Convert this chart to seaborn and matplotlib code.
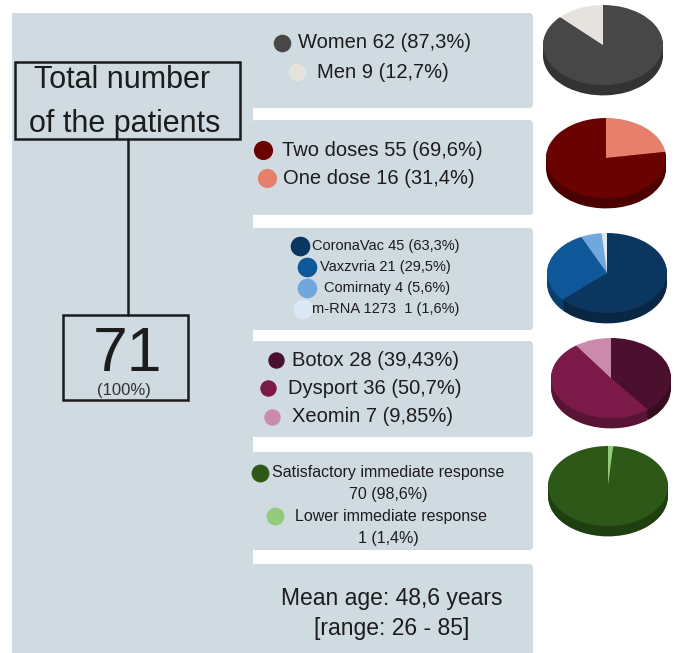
import matplotlib
matplotlib.use('Agg')
import matplotlib.pyplot as plt
import seaborn as sns
from matplotlib.patches import FancyBboxPatch, Rectangle

sns.set_theme(style='white')
plt.rcParams['font.family'] = ['Liberation Sans', 'DejaVu Sans']

# data
total = 71
sex_labels = ['Women 62 (87,3%)', 'Men 9 (12,7%)']
sex_counts = [62, 9]
sex_colors = ['#474747', '#e6e3df']

dose_labels = ['Two doses 55 (69,6%)', 'One dose 16 (31,4%)']
dose_counts = [55, 16]
dose_colors = ['#6a0202', '#e6806c']

vacc_labels = ['CoronaVac 45 (63,3%)', 'Vaxzvria 21 (29,5%)', 'Comirnaty 4 (5,6%)', 'm-RNA 1273  1 (1,6%)']
vacc_counts = [45, 21, 4, 1]
vacc_colors = ['#0b365f', '#0e5798', '#70a7dd', '#dbe9f6']

toxin_labels = ['Botox 28 (39,43%)', 'Dysport 36 (50,7%)', 'Xeomin 7 (9,85%)']
toxin_counts = [28, 36, 7]
toxin_colors = ['#4b102e', '#7b1a49', '#cc8aab']

resp_labels = ['Satisfactory immediate response', 'Lower immediate response']
resp_values = ['70 (98,6%)', '1 (1,4%)']
resp_counts = [70, 1]
resp_colors = ['#2d5818', '#93cb7b']

age_lines = ['Mean age: 48,6 years', '[range: 26 - 85]']

W, H = 683, 653
fig = plt.figure(figsize=(W / 100, H / 100), dpi=100)
fig.patch.set_facecolor('white')
ax = fig.add_axes([0, 0, 1, 1])
ax.set_xlim(0, W)
ax.set_ylim(H, 0)
ax.axis('off')

panel = '#cfdae1'
ink = '#1c1c1c'
ax.add_patch(Rectangle((12, 13), 241, H - 13, color=panel, lw=0))
panels = [(13, 108), (120, 215), (228, 330), (341, 437), (452, 550), (564, H + 10)]
for top, bot in panels:
    ax.add_patch(FancyBboxPatch((252, top), 281, bot - top, boxstyle='round,pad=0,rounding_size=4',
                                color=panel, lw=0))

# left side
ax.add_patch(Rectangle((15, 62), 225, 77, fill=False, ec=ink, lw=1.8))
ax.text(122, 88, 'Total number', ha='center', va='baseline', fontsize=22, color=ink)
ax.text(125, 132, 'of the patients', ha='center', va='baseline', fontsize=22, color=ink)
ax.plot([128, 128], [139, 315], color=ink, lw=1.8)
ax.add_patch(Rectangle((63, 315), 125, 85, fill=False, ec=ink, lw=1.8))
ax.text(127, 371, str(total), ha='center', va='baseline', fontsize=45, color=ink)
ax.text(124, 391, '(100%)', ha='center', va='center', fontsize=12, color='#333333')


def legend_rows(labels, colors, ys, xs_marker, xs_text, size, msize):
    for lab, col, y, xm, xt in zip(labels, colors, ys, xs_marker, xs_text):
        ax.scatter([xm], [y], s=msize, color=col, zorder=3, lw=0)
        ax.text(xt, y, lab, ha='left', va='center', fontsize=size, color=ink)


legend_rows(sex_labels, sex_colors, [43, 72], [282, 297], [298, 317], 14.5, 160)
legend_rows(dose_labels, dose_colors, [150, 178], [263, 267], [282, 283], 14.5, 190)
legend_rows(vacc_labels, vacc_colors, [246, 267, 288, 309], [300, 307, 307, 303],
            [312, 320, 324, 312], 10.5, 200)
legend_rows(toxin_labels, toxin_colors, [360, 388, 417], [276, 268, 272], [292, 288, 292], 14.5, 140)
legend_rows(resp_labels, resp_colors, [473, 516], [260, 275], [272, 295], 11.5, 165)
for val, y in zip(resp_values, [495, 538]):
    ax.text(388, y, val, ha='center', va='center', fontsize=11.5, color=ink)
for line, y in zip(age_lines, [598, 628]):
    ax.text(392, y, line, ha='center', va='center', fontsize=16.5, color=ink)


def darker(c, f=0.72):
    r, g, b = matplotlib.colors.to_rgb(c)
    return (r * f, g * f, b * f)


def pie_3d(counts, colors, cx, cy, start=90, cw=True, a=60, b=40):
    # tilted pie: a unit circle squeezed into an a x b pixel ellipse, with a darker rim below
    x0, x1, y0, y1 = -1.1, 1.1, -1.45, 1.1
    pax = fig.add_axes([(cx + x0 * a) / W, 1 - (cy - y0 * b) / H, (x1 - x0) * a / W, (y1 - y0) * b / H])
    for off in [0.26, 0.2, 0.14, 0.08, 0.04]:
        pax.pie(counts, colors=[darker(c) for c in colors], radius=1, center=(0, -off),
                startangle=start, counterclock=not cw, wedgeprops=dict(lw=0))
    pax.pie(counts, colors=colors, radius=1, center=(0, 0),
            startangle=start, counterclock=not cw, wedgeprops=dict(lw=0))
    pax.set_aspect('auto')
    pax.set_xlim(x0, x1)
    pax.set_ylim(y0, y1)
    pax.axis('off')


pie_3d(sex_counts, sex_colors, 603, 45, cw=False, start=90 - 360 * sex_counts[0] / sum(sex_counts))
pie_3d(dose_counts[::-1], dose_colors[::-1], 606, 158)
pie_3d(vacc_counts, vacc_colors, 607, 273)
pie_3d(toxin_counts, toxin_colors, 611, 378)
pie_3d(resp_counts[::-1], resp_colors[::-1], 608, 486)

fig.savefig('out.png', dpi=100, facecolor='white')
